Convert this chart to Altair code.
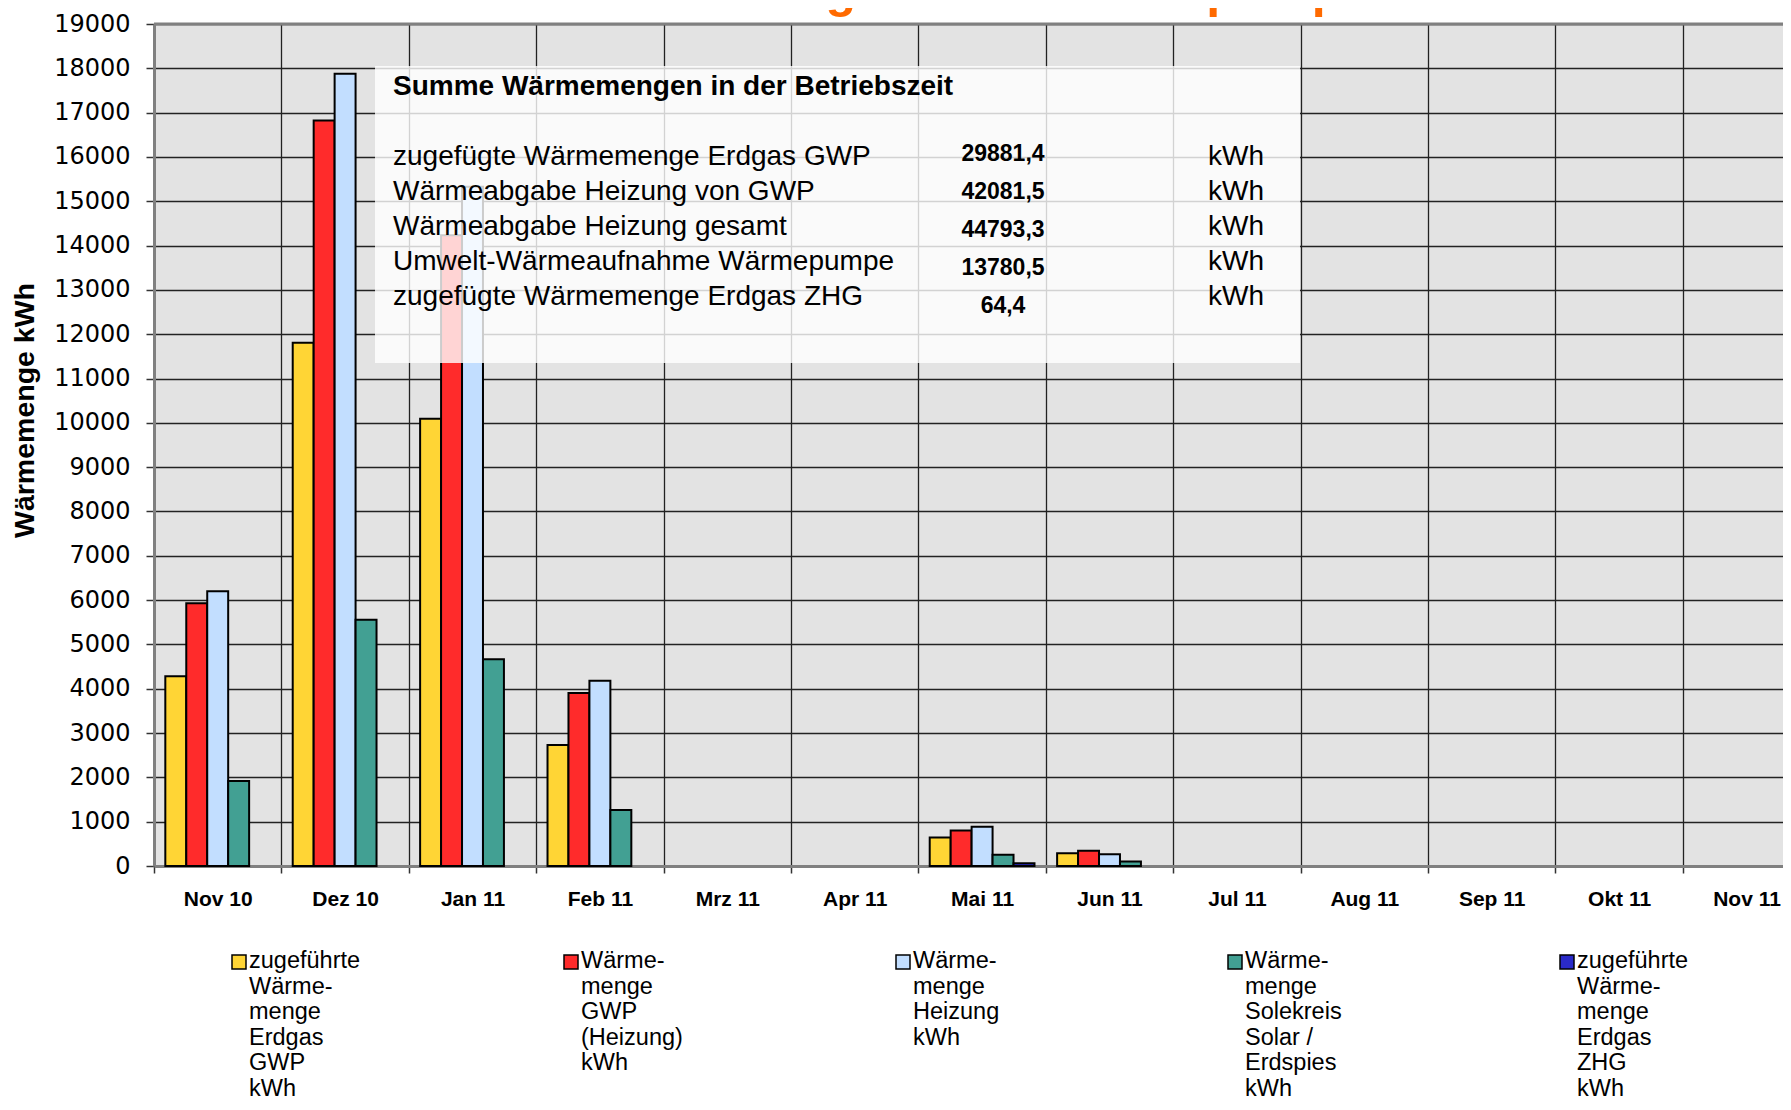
import altair as alt
import pandas as pd

# ---------------- data ----------------
months = ["Nov 10", "Dez 10", "Jan 11", "Feb 11", "Mrz 11", "Apr 11", "Mai 11",
          "Jun 11", "Jul 11", "Aug 11", "Sep 11", "Okt 11", "Nov 11"]

series = [
    "zugeführte Wärmemenge Erdgas GWP kWh",
    "Wärmemenge GWP (Heizung) kWh",
    "Wärmemenge Heizung kWh",
    "Wärmemenge Solekreis Solar / Erdspies kWh",
    "zugeführte Wärmemenge Erdgas ZHG kWh",
]
legend_labels = [
    "zugeführte|Wärme-|menge|Erdgas|GWP|kWh",
    "Wärme-|menge|GWP|(Heizung)|kWh",
    "Wärme-|menge|Heizung|kWh",
    "Wärme-|menge|Solekreis|Solar /|Erdspies|kWh",
    "zugeführte|Wärme-|menge|Erdgas|ZHG|kWh",
]

erdgas_gwp     = [4280, 11810, 10095, 2732, 0, 0, 641, 290, 0, 0, 0, 0, 0]
waerme_gwp     = [5930, 16820, 14235, 3905, 0, 0, 802, 344, 0, 0, 0, 0, 0]
waerme_heizung = [6200, 17880, 15330, 4178, 0, 0, 885, 267, 0, 0, 0, 0, 0]
solekreis      = [1920, 5558, 4668, 1262, 0, 0, 252, 99, 0, 0, 0, 0, 0]
erdgas_zhg     = [0, 0, 0, 0, 0, 0, 64.4, 0, 0, 0, 0, 0, 0]

colors = ["#FFD535", "#FF2B2B", "#C2DEFF", "#42A093", "#2A2AC8"]
y_ticks = list(range(0, 19001, 1000))

chart_title = "Wärmemengen Gas-Wärmepumpe"
box_title = "Summe Wärmemengen in der Betriebszeit"
box_labels = [
    "zugefügte Wärmemenge Erdgas GWP",
    "Wärmeabgabe Heizung von GWP",
    "Wärmeabgabe Heizung gesamt",
    "Umwelt-Wärmeaufnahme Wärmepumpe",
    "zugefügte Wärmemenge Erdgas ZHG",
]
box_values = ["29881,4", "42081,5", "44793,3", "13780,5", "64,4"]
box_units = ["kWh", "kWh", "kWh", "kWh", "kWh"]

# ---------------- layout ----------------
PAD_L, PAD_T = 146, 16
W, H = 1629, 842
PAD_B = 1092 - PAD_T - H
STEP = 127.4

rows = []
for s, vals in zip(series, [erdgas_gwp, waerme_gwp, waerme_heizung, solekreis, erdgas_zhg]):
    for m, v in zip(months, vals):
        rows.append({"month": m, "series": s, "value": v})
df = pd.DataFrame(rows)

color_scale = alt.Scale(domain=series, range=colors)
one = pd.DataFrame({"k": [0]})

bars = alt.Chart(df).transform_filter("datum.value > 0").mark_bar(
    stroke="black", strokeWidth=2
).encode(
    x=alt.X("month:N", sort=months,
            scale=alt.Scale(domain=months, range=[0, 13 * STEP], paddingInner=0, paddingOuter=0),
            axis=alt.Axis(title=None, labelAngle=0, tickBand="extent", grid=True,
                          gridColor="#222222", gridWidth=1.3,
                          labelFont="Liberation Sans", labelFontWeight="bold", labelFontSize=21,
                          labelColor="black", labelPadding=15, tickSize=7, tickColor="#333333",
                          tickWidth=1.5, domainColor="#808080", domainWidth=3)),
    xOffset=alt.XOffset("series:N", sort=series,
                        scale=alt.Scale(domain=series, paddingInner=0, paddingOuter=0.54)),
    y=alt.Y("value:Q", scale=alt.Scale(domain=[0, 19000], nice=False),
            axis=alt.Axis(values=y_ticks, format="d", title="Wärmemenge kWh",
                          titleFont="Liberation Sans", titleFontSize=28.5, titleFontWeight="bold",
                          titleColor="black", titlePadding=14, titleY=386,
                          labelFont="DejaVu Sans", labelFontSize=24, labelColor="black",
                          labelPadding=16, tickSize=8, tickColor="#333333", tickWidth=1.5,
                          grid=True, gridColor="#222222", gridWidth=1.3,
                          domainColor="#808080", domainWidth=3)),
    color=alt.Color("series:N", scale=color_scale, legend=None),
)

top_border = alt.Chart(one).mark_rule(color="#808080", strokeWidth=3).encode(
    x=alt.value(0), x2=alt.value(W), y=alt.value(0)
)

title = alt.Chart(one).mark_text(
    font="Liberation Sans", fontSize=50, fontWeight="bold", color="#FF6A00",
    align="center", baseline="alphabetic"
).encode(x=alt.value(809), y=alt.value(-17.5), text=alt.value(chart_title))

box = alt.Chart(one).mark_rect(fill="white", opacity=0.8).encode(
    x=alt.value(221), x2=alt.value(1146), y=alt.value(42), y2=alt.value(339)
)

box_head = alt.Chart(one).mark_text(
    font="Liberation Sans", fontSize=28, fontWeight="bold", color="black",
    align="left", baseline="alphabetic"
).encode(x=alt.value(239), y=alt.value(71), text=alt.value(box_title))

box_lab = alt.Chart(one).mark_text(
    font="Liberation Sans", fontSize=28, color="black", align="left",
    baseline="alphabetic", lineBreak="\n", lineHeight=35
).encode(x=alt.value(239), y=alt.value(141), text=alt.value("\n".join(box_labels)))

box_val = alt.Chart(one).mark_text(
    font="Liberation Sans", fontSize=23, fontWeight="bold", color="black", align="center",
    baseline="alphabetic", lineBreak="\n", lineHeight=38
).encode(x=alt.value(849), y=alt.value(136.5), text=alt.value("\n".join(box_values)))

box_unit = alt.Chart(one).mark_text(
    font="Liberation Sans", fontSize=28, color="black", align="left",
    baseline="alphabetic", lineBreak="\n", lineHeight=35
).encode(x=alt.value(1054), y=alt.value(141), text=alt.value("\n".join(box_units)))

leg_df = pd.DataFrame({"series": series, "label": legend_labels, "i": list(range(len(series)))})

leg_sym = alt.Chart(leg_df).transform_calculate(lx="85 + 332 * datum.i").mark_square(
    size=196, stroke="black", strokeWidth=1.5, opacity=1
).encode(
    x=alt.X("lx:Q", scale=None, axis=None),
    y=alt.value(938),
    color=alt.Color("series:N", scale=color_scale, legend=None),
)

leg_txt = alt.Chart(leg_df).transform_calculate(lx="85 + 332 * datum.i").mark_text(
    font="Liberation Sans", fontSize=23.5, color="black", align="left",
    baseline="alphabetic", lineBreak="|", lineHeight=25.6, dx=10
).encode(
    x=alt.X("lx:Q", scale=None, axis=None),
    y=alt.value(944),
    text="label:N",
)

chart = alt.layer(
    bars, box, top_border, title, box_head, box_lab, box_val, box_unit, leg_sym, leg_txt
).resolve_scale(x="independent").properties(
    width=W, height=H,
    autosize=alt.AutoSizeParams(type="none"),
    padding={"left": PAD_L, "top": PAD_T, "right": 0, "bottom": PAD_B},
).configure(font="Liberation Sans").configure_view(fill="#e3e3e3", stroke="transparent")

chart.save("out.html", embed_options={"renderer": "svg", "actions": False})
